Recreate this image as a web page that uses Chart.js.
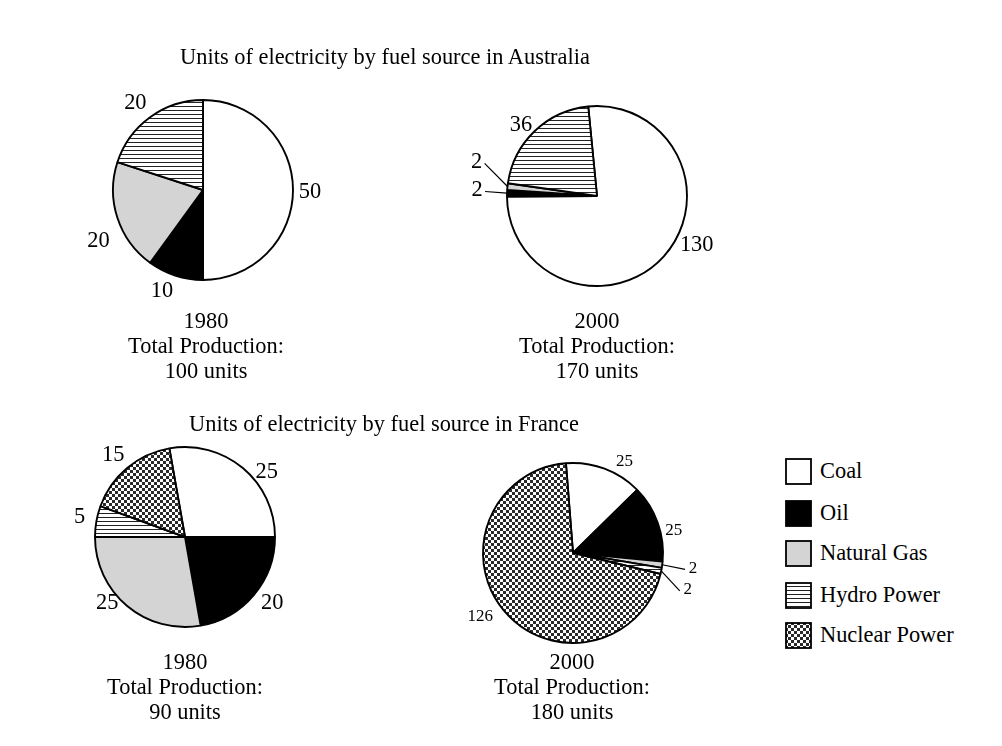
<!DOCTYPE html>
<html>
<head>
<meta charset="utf-8">
<script src="https://cdn.jsdelivr.net/npm/chart.js@4.4.1/dist/chart.umd.min.js"></script>
<style>
  body { margin: 0; background: #fff; }
  #page { position: relative; width: 1002px; height: 746px; overflow: hidden; font-family: "Liberation Serif", "Times New Roman", serif; color: #000; }
  .t { position: absolute; white-space: nowrap; transform: translate(-50%, -50%); font-size: 22.4px; line-height: 1; }
  .lt { position: absolute; white-space: nowrap; transform: translateY(-50%); font-size: 22.4px; line-height: 1; }
  canvas.pie { position: absolute; }
  canvas.box { position: absolute; }
</style>
</head>
<body>
<div id="page"></div>
<script>
// fuel sources, clockwise order in every pie
var fuels = ["Coal", "Oil", "Natural Gas", "Hydro Power", "Nuclear Power"];

var aus1980 = [50, 10, 20, 20];
var aus2000 = [130, 2, 2, 36];
var fra1980 = [25, 20, 25, 5, 15];
var fra2000 = [25, 25, 2, 2, 126];

var titles = ["Units of electricity by fuel source in Australia", "Units of electricity by fuel source in France"];
var years = ["1980", "2000", "1980", "2000"];
var totals = ["100 units", "170 units", "90 units", "180 units"];

var page = document.getElementById("page");

function tile(w, h, draw) {
    var c = document.createElement("canvas");
    c.width = w; c.height = h;
    var x = c.getContext("2d");
    x.fillStyle = "#fff";
    x.fillRect(0, 0, w, h);
    draw(x);
    return c;
}
var hydroTile = tile(4, 4, function(x) { x.fillStyle = "#222"; x.fillRect(0, 0, 4, 1); });
var nuclearTile = tile(6, 6, function(x) {
    x.fillStyle = "#2a2a2a";
    x.fillRect(0, 0, 3, 3);
    x.fillRect(3, 3, 3, 3);
});

function fills(ctx) {
    return ["#ffffff", "#000000", "#d4d4d4", ctx.createPattern(hydroTile, "repeat"), ctx.createPattern(nuclearTile, "repeat")];
}

function text(cls, s, x, y, size) {
    var d = document.createElement("div");
    d.className = cls;
    d.textContent = s;
    d.style.left = x + "px";
    d.style.top = y + "px";
    if (size) d.style.fontSize = size + "px";
    page.appendChild(d);
}

// layout of the four pies: centre, start rotation, label nudges, leader lines
var pies = [
    { data: aus1980, cx: 203, cy: 190, rot: 0, size: 22.4, nudge: [[-3, 2], [-7, -3], [0, 17], [-3, 2]], leader: [] },
    { data: aus2000, cx: 597, cy: 196, rot: -5.6, size: 22.4, nudge: [[18, -25], [-10, -2], [-11, -22], [0, 9]], leader: [1, 2] },
    { data: fra1980, cx: 185, cy: 537, rot: -10, size: 22.4, nudge: [[11, 19], [3, -5], [-7, -18], [3, -1], [-1, 2]], leader: [] },
    { data: fra2000, cx: 573, cy: 553, rot: -4.5, size: 17, nudge: [[13, 12], [-3, 14], [11, 1], [7, 15], [-9, -8]], leader: [2, 3] }
];

var valueLabels = {
    id: "valueLabels",
    afterDatasetsDraw: function(chart, args, o) {
        var ctx = chart.ctx;
        var arcs = chart.getDatasetMeta(0).data;
        var vals = chart.data.datasets[0].data;
        ctx.save();
        ctx.font = o.size + "px 'Liberation Serif', serif";
        ctx.fillStyle = "#000";
        ctx.strokeStyle = "#000";
        ctx.lineWidth = 1.2;
        ctx.textAlign = "center";
        ctx.textBaseline = "middle";
        arcs.forEach(function(a, i) {
            var p = a.getProps(["x", "y", "startAngle", "endAngle", "outerRadius"], true);
            var m = (p.startAngle + p.endAngle) / 2;
            var n = o.nudge[i] || [0, 0];
            var lx = p.x + Math.cos(m) * 110 + n[0];
            var ly = p.y + Math.sin(m) * 110 + n[1];
            ctx.fillText(String(vals[i]), lx, ly);
            if (o.leader.indexOf(i) >= 0) {
                var ex = p.x + Math.cos(m) * p.outerRadius;
                var ey = p.y + Math.sin(m) * p.outerRadius;
                var side = ex > lx ? 1 : -1;
                ctx.beginPath();
                ctx.moveTo(lx + side * 8, ly + 1);
                ctx.lineTo(ex, ey);
                ctx.stroke();
            }
        });
        ctx.restore();
    }
};

pies.forEach(function(p, k) {
    var cv = document.createElement("canvas");
    cv.className = "pie";
    cv.width = 320; cv.height = 320;
    cv.style.left = (p.cx - 160) + "px";
    cv.style.top = (p.cy - 160) + "px";
    page.appendChild(cv);
    var ctx = cv.getContext("2d");
    new Chart(cv, {
        type: "pie",
        data: {
            labels: fuels.slice(0, p.data.length),
            datasets: [{
                data: p.data,
                backgroundColor: fills(ctx).slice(0, p.data.length),
                borderColor: "#000",
                borderWidth: 1.9
            }]
        },
        options: {
            responsive: false,
            animation: false,
            rotation: p.rot,
            radius: 90,
            layout: { padding: 0 },
            plugins: {
                legend: { display: false },
                tooltip: { enabled: false },
                valueLabels: { size: p.size, nudge: p.nudge, leader: p.leader }
            }
        },
        plugins: [valueLabels]
    });
});

// titles and captions
text("t", titles[0], 385, 57);
text("t", titles[1], 384, 424);
var caps = [[206, 321], [597, 321], [185, 662], [572, 662]];
caps.forEach(function(c, i) {
    text("t", years[i], c[0], c[1]);
    text("t", "Total Production:", c[0], c[1] + 25);
    text("t", totals[i], c[0], c[1] + 50);
});

// legend
var legY = [471, 513, 553, 595, 635];
fuels.forEach(function(f, i) {
    var b = document.createElement("canvas");
    b.className = "box";
    b.width = 27; b.height = 27;
    b.style.left = "785px";
    b.style.top = (legY[i] - 13) + "px";
    page.appendChild(b);
    var x = b.getContext("2d");
    x.fillStyle = fills(x)[i];
    x.fillRect(1, 1, 25, 25);
    x.strokeStyle = "#000";
    x.lineWidth = 1.8;
    x.strokeRect(1, 1, 25, 25);
    text("lt", f, 820, legY[i]);
});
</script>
</body>
</html>
